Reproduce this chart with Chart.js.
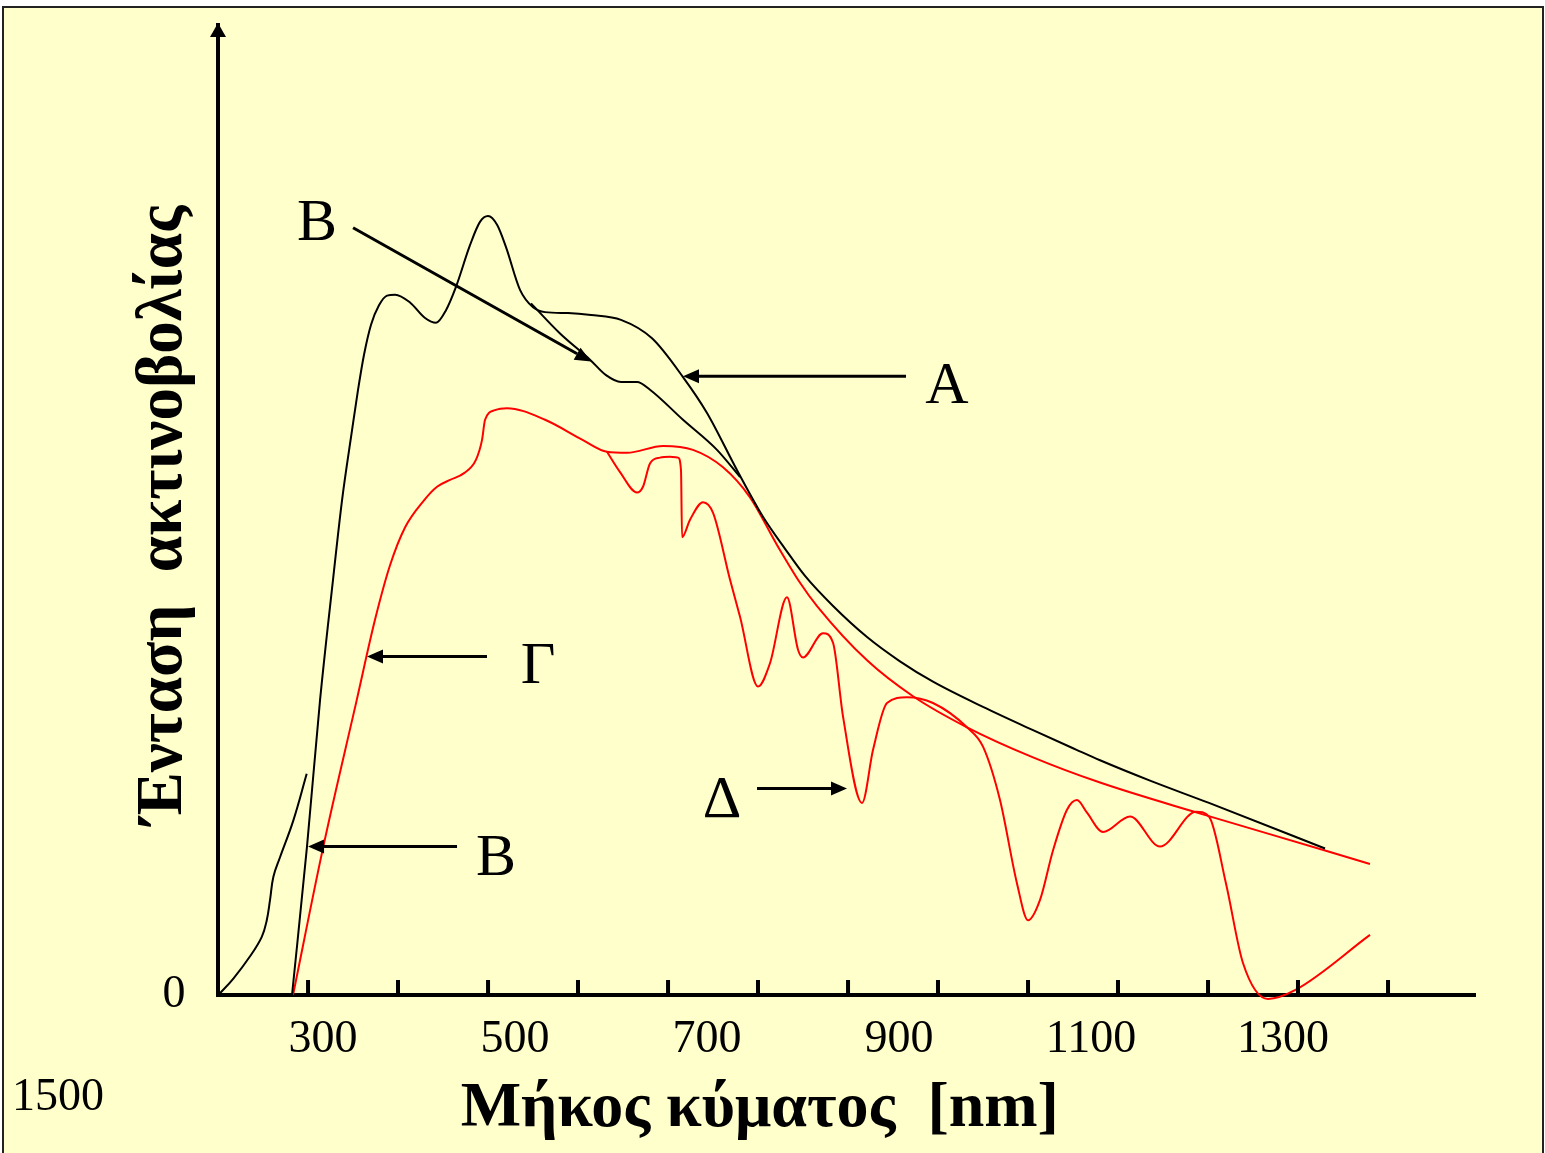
<!DOCTYPE html>
<html><head><meta charset="utf-8">
<script src="https://cdn.jsdelivr.net/npm/chart.js@4"></script>
<style>html,body{margin:0;padding:0;background:#fff}canvas{display:block}</style>
</head><body>
<canvas id="c" width="1545" height="1153"></canvas>
<script>
// ---- data (wavelength in nm, intensity in arbitrary units 0..100) ----
const xMin = 190.6, xMax = 1500;
const yMin = 0, yMax = 100;

const xTickLabels = [300, 500, 700, 900, 1100, 1300];
const xTickMarks = [284.4, 378.1, 471.9, 565.6, 659.4, 753.1, 846.9, 940.6, 1034.4, 1128.1, 1221.9, 1315.6, 1409.4];
const overflowLabel = '1500';

// short UV tail (black)
const uvNm = [191, 206.6, 224, 236.2, 241.4, 244.8, 248.3, 255.2, 269.1, 283];
const uvI  = [0, 1.7, 4.0, 6.0, 7.7, 9.8, 12.2, 14.2, 18.0, 22.8];

// curve A (black, upper)
const aNm = [267.7, 283.3, 296.9, 310.4, 319.8, 330.2, 336.5, 342.7, 350.0, 358.3, 366.7, 375.0, 390.6, 406.3, 417.7, 428.1, 438.5, 453.1, 463.5, 471.9, 481.3, 490.6, 505.2, 518.8, 531.3, 555.2, 579.2, 610.4, 642.7, 675.0, 700.0, 731.3, 758.3, 781.3, 802.1, 831.3, 866.7, 901.0, 935.4, 987.5, 1039.6, 1084.4, 1109.4, 1161.5, 1222.9, 1343.8];
const aI  = [0, 15.3, 30.4, 42.8, 51.0, 58.2, 62.4, 66.0, 69.1, 71.1, 72.1, 72.2, 71.4, 69.8, 69.3, 70.6, 73.0, 77.3, 79.7, 80.3, 79.4, 77.1, 72.7, 70.9, 70.4, 70.3, 70.1, 69.6, 67.7, 63.7, 60.0, 54.1, 49.3, 46.0, 43.2, 40.1, 36.9, 34.4, 32.3, 29.7, 27.3, 25.3, 24.2, 22.1, 19.8, 15.1];

// curve B branch (black, lower)
const bNm = [516.7, 546.9, 578.1, 594.8, 610.4, 627.1, 640.6, 675.0, 710.4, 734.4];
const bI  = [71.3, 68.2, 65.5, 63.9, 63.2, 63.2, 62.4, 59.3, 56.2, 53.4];

// curve Γ (red envelope)
const gNm = [268.75, 300.3, 335.1, 354.2, 369.8, 385.4, 405.2, 418.8, 432.3, 446.9, 459.4, 465.6, 468.8, 479.2, 491.7, 531.3, 570.8, 595.8, 616.7, 654.2, 685.4, 716.7, 744.8, 772.9, 796.9, 814.6, 866.7, 914.6, 970.8, 1039.6, 1109.4, 1210.4, 1343.8, 1390.6];
const gI  = [0, 15.3, 30.4, 38.7, 44.3, 48.2, 51.0, 52.4, 53.1, 53.8, 55.2, 57.2, 59.3, 60.3, 60.5, 59.3, 57.2, 56.0, 55.9, 56.6, 56.2, 54.4, 51.3, 46.4, 42.5, 40.1, 34.5, 30.8, 27.6, 24.5, 21.9, 18.8, 14.9, 13.5];

// curve Δ (red, with absorption bands)
const dNm = [595.8, 609.4, 627.1, 633.3, 640.6, 651.0, 661.5, 669.8, 672.9, 674.0, 682.3, 695.8, 706.3, 724.0, 734.4, 753.1, 765.6, 783.3, 794.8, 800.0, 820.8, 831.3, 841.7, 861.5, 873.0, 887.5, 908.3, 935.4, 970.8, 987.5, 1005.2, 1022.9, 1034.4, 1046.9, 1060.4, 1075.0, 1085.4, 1095.8, 1112.5, 1140.6, 1171.9, 1209.4, 1222.9, 1240.6, 1258.3, 1284.4, 1312.5, 1390.6];
const dI  = [56.0, 53.9, 51.8, 52.4, 54.8, 55.4, 55.5, 55.4, 54.1, 47.2, 49.0, 50.8, 49.7, 42.8, 39.0, 31.8, 34.2, 41.0, 35.6, 34.8, 37.3, 36.3, 28.7, 19.8, 25.3, 30.1, 30.7, 30.1, 27.6, 25.6, 20.1, 11.5, 7.7, 9.8, 14.9, 19.1, 20.1, 18.8, 16.8, 18.4, 15.3, 18.9, 18.4, 11.5, 3.3, -0.4, 0.5, 6.2];

// annotation letters and arrows
const labelTexts = ['B', 'A', 'Γ', 'B', 'Δ'];
const labelNm = [293.75, 950, 524, 480.2, 715.6];
const labelI  = [77.8, 61.0, 32.2, 12.4, 18.4];
const arrowFromNm = [331.3, 907.3, 470.8, 439.6, 752.1];
const arrowFromI  = [79.1, 63.8, 34.9, 15.3, 21.3];
const arrowToNm   = [579.2, 675.0, 345.8, 284.4, 845.8];
const arrowToI    = [65.3, 63.8, 34.9, 15.3, 21.3];

const xTitle = 'Μήκος κύματος  [nm]';
const yTitle = 'Ένταση  ακτινοβολίας';
const yZeroLabel = '0';

const pts = (xs, ys) => xs.map((x, i) => ({x, y: ys[i]}));
const SERIF = '"Liberation Serif", "DejaVu Serif", serif';

function drawArrow(ctx, x1, y1, x2, y2) {
  const ang = Math.atan2(y2 - y1, x2 - x1);
  const L = 16, W = 7, c = Math.cos(ang), s = Math.sin(ang);
  ctx.lineWidth = 3;
  ctx.beginPath(); ctx.moveTo(x1, y1); ctx.lineTo(x2 - L * c, y2 - L * s); ctx.stroke();
  ctx.beginPath();
  ctx.moveTo(x2, y2);
  ctx.lineTo(x2 - L * c + W * s, y2 - L * s - W * c);
  ctx.lineTo(x2 - L * c - W * s, y2 - L * s + W * c);
  ctx.closePath(); ctx.fill();
}

const deco = {
  id: 'deco',
  beforeDraw(chart) {
    const ctx = chart.ctx;
    ctx.save();
    ctx.fillStyle = '#ffffff'; ctx.fillRect(0, 0, chart.width, chart.height);
    ctx.fillStyle = '#FFFFCC'; ctx.fillRect(4, 8, chart.width - 6, chart.height - 8);
    ctx.strokeStyle = '#222'; ctx.lineWidth = 2;
    ctx.beginPath();
    ctx.moveTo(3, chart.height); ctx.lineTo(3, 7); ctx.lineTo(chart.width - 2, 7); ctx.lineTo(chart.width - 2, chart.height);
    ctx.stroke();
    ctx.restore();
  },
  afterDraw(chart) {
    const ctx = chart.ctx, xs = chart.scales.x, ys = chart.scales.y, ca = chart.chartArea;
    ctx.save();
    ctx.fillStyle = '#000'; ctx.strokeStyle = '#000';
    // y-axis arrow head
    ctx.beginPath();
    ctx.moveTo(ca.left, ca.top - 2);
    ctx.lineTo(ca.left - 8, ca.top + 12);
    ctx.lineTo(ca.left + 8, ca.top + 12);
    ctx.closePath(); ctx.fill();
    // tick marks (pointing up)
    xTickMarks.forEach(v => {
      const px = xs.getPixelForValue(v);
      ctx.fillRect(px - 2, ca.bottom - 15, 4, 15);
    });
    // tick labels
    ctx.font = '46px ' + SERIF;
    ctx.textAlign = 'center'; ctx.textBaseline = 'alphabetic';
    xTickLabels.forEach(v => ctx.fillText(String(v), xs.getPixelForValue(v), ca.bottom + 57));
    ctx.fillText(yZeroLabel, ca.left - 44, ys.getPixelForValue(0) + 12);
    ctx.textAlign = 'left';
    ctx.fillText(overflowLabel, 12, 1110);
    // axis titles
    ctx.font = 'bold 64px ' + SERIF;
    ctx.textAlign = 'center';
    ctx.fillText(xTitle, xs.getPixelForValue(755), 1126);
    ctx.save();
    ctx.font = 'bold 65px ' + SERIF;
    ctx.translate(ca.left - 37, ys.getPixelForValue(49.5));
    ctx.rotate(-Math.PI / 2);
    ctx.textBaseline = 'alphabetic';
    ctx.fillText(yTitle, 0, 0);
    ctx.restore();
    // annotation letters
    ctx.font = '60px ' + SERIF;
    ctx.textAlign = 'center';
    labelTexts.forEach((t, i) => ctx.fillText(t, xs.getPixelForValue(labelNm[i]), ys.getPixelForValue(labelI[i])));
    // arrows
    arrowFromNm.forEach((v, i) => drawArrow(ctx,
      xs.getPixelForValue(v), ys.getPixelForValue(arrowFromI[i]),
      xs.getPixelForValue(arrowToNm[i]), ys.getPixelForValue(arrowToI[i])));
    ctx.restore();
  }
};

const lineDs = (data, color, smooth) => Object.assign({
  data, borderColor: color, borderWidth: 2, pointRadius: 0, fill: false, clip: 20
}, smooth ? { tension: 0.4 } : { cubicInterpolationMode: 'monotone' });

new Chart(document.getElementById('c'), {
  type: 'line',
  data: {
    datasets: [
      lineDs(pts(uvNm, uvI), '#000000', true),
      lineDs(pts(aNm, aI), '#000000'),
      lineDs(pts(bNm, bI), '#000000'),
      lineDs(pts(gNm, gI), '#FF0000'),
      lineDs(pts(dNm, dI), '#FF0000')
    ]
  },
  options: {
    responsive: false, animation: false, devicePixelRatio: 1,
    layout: { padding: { left: 218, right: 70, top: 25, bottom: 158 } },
    plugins: { legend: { display: false }, tooltip: { enabled: false } },
    scales: {
      x: {
        type: 'linear', min: xMin, max: xMax,
        grid: { display: false }, ticks: { display: false },
        border: { display: true, width: 4, color: '#000' },
        afterFit: s => { s.height = 0; }
      },
      y: {
        type: 'linear', min: yMin, max: yMax,
        grid: { display: false }, ticks: { display: false },
        border: { display: true, width: 4, color: '#000' },
        afterFit: s => { s.width = 0; }
      }
    }
  },
  plugins: [deco]
});
</script>
</body></html>
